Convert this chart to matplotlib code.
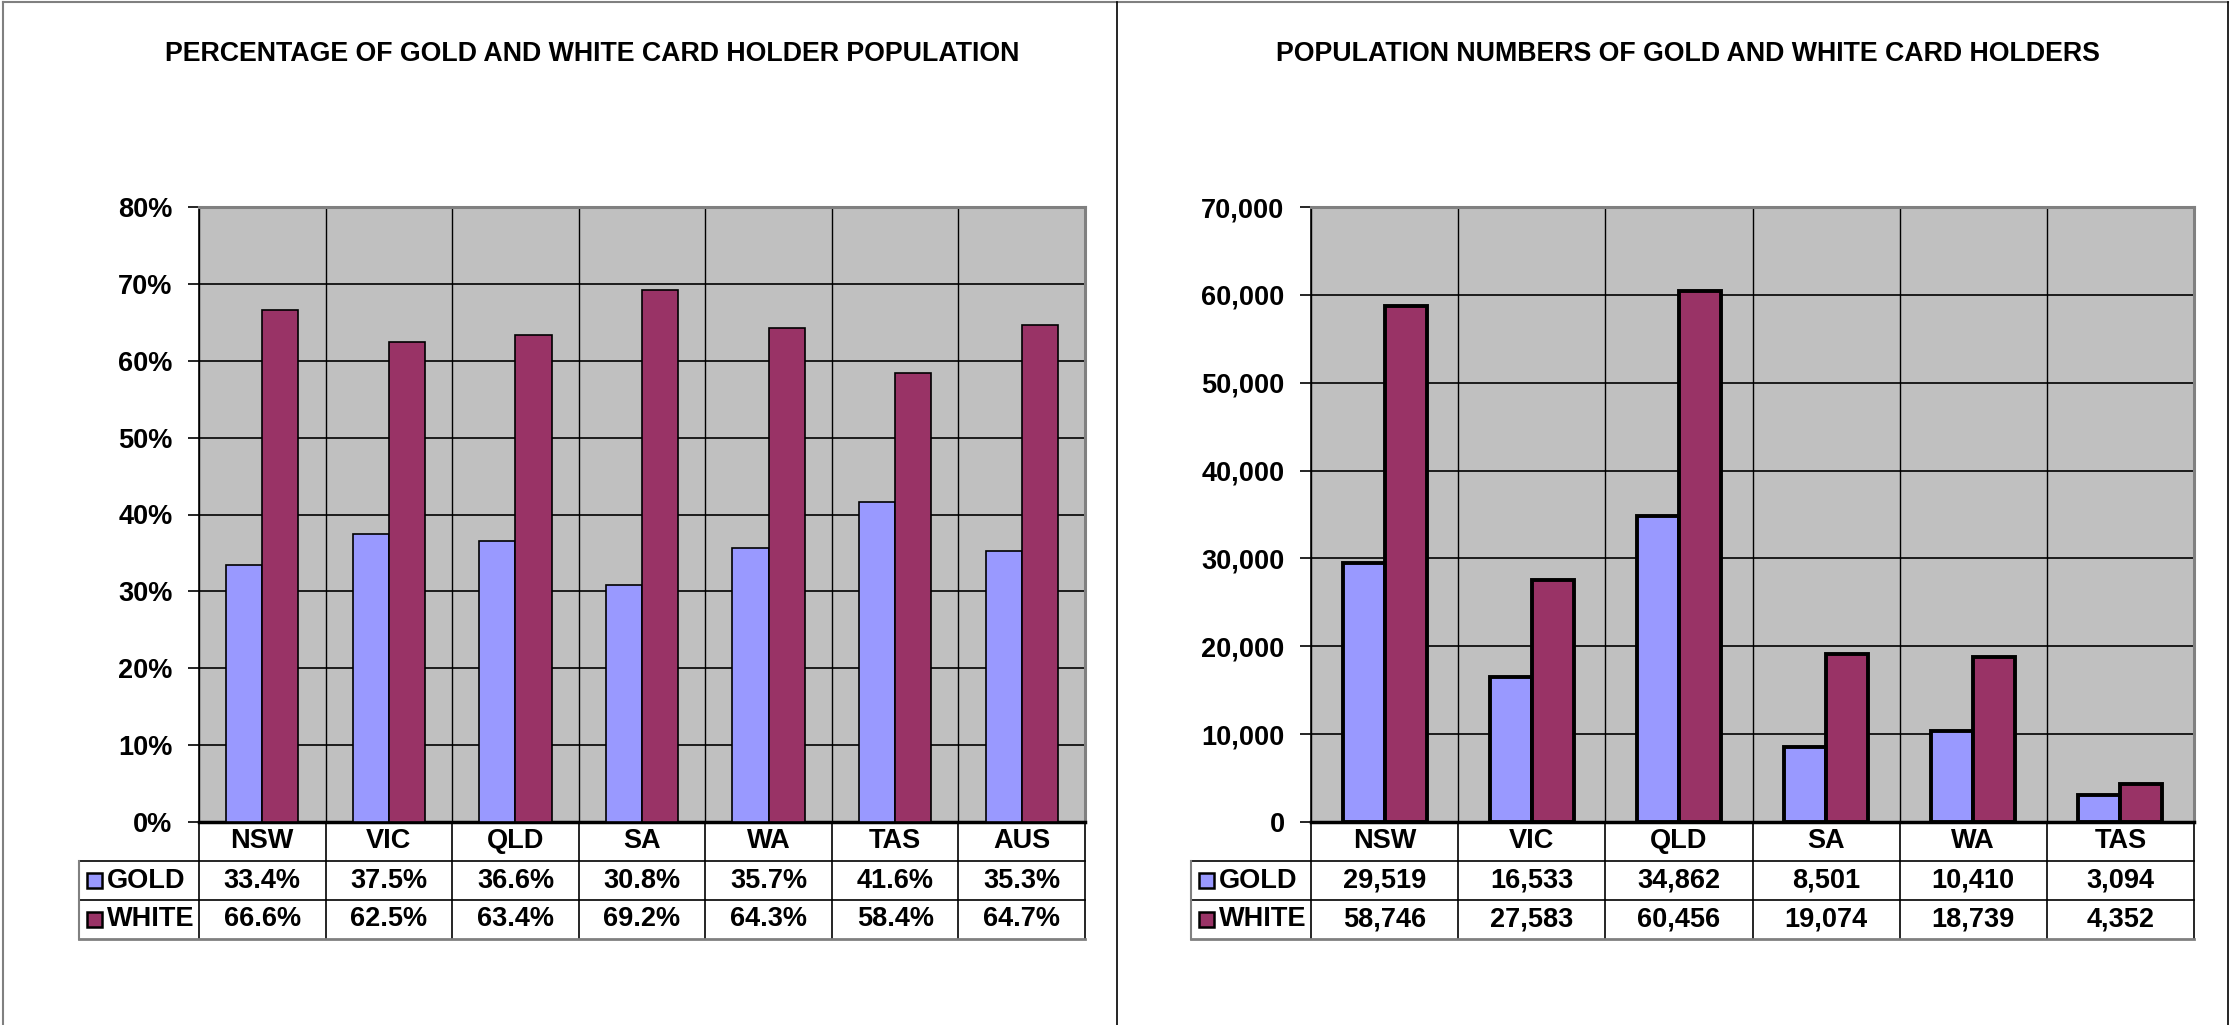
import numpy as np
import matplotlib
matplotlib.use('Agg')
import matplotlib.pyplot as plt
from matplotlib.patches import Rectangle
from matplotlib.lines import Line2D
from matplotlib.ticker import FuncFormatter, MultipleLocator

plt.rcParams['font.family'] = 'Liberation Sans'
plt.rcParams['font.weight'] = 'bold'

# --- data ---
states_pct = ['NSW', 'VIC', 'QLD', 'SA', 'WA', 'TAS', 'AUS']
gold_pct = [33.4, 37.5, 36.6, 30.8, 35.7, 41.6, 35.3]
white_pct = [66.6, 62.5, 63.4, 69.2, 64.3, 58.4, 64.7]

states_num = ['NSW', 'VIC', 'QLD', 'SA', 'WA', 'TAS']
gold_num = [29519, 16533, 34862, 8501, 10410, 3094]
white_num = [58746, 27583, 60456, 19074, 18739, 4352]

series_names = ['GOLD', 'WHITE']
GOLD_C = '#9999FF'
WHITE_C = '#993366'
PLOT_BG = '#C0C0C0'
FS = 19.5
FS_TITLE = 19.3

W, H = 2233, 1025
fig = plt.figure(figsize=(W / 100, H / 100), dpi=100)


def px_axes(x0, y0, x1, y1):
    return fig.add_axes([x0 / W, 1 - y1 / H, (x1 - x0) / W, (y1 - y0) / H])


def draw_chart(ax, cats, gold, white, ymax, step, fmt, valfmt, bar_lw, key_left_px):
    n = len(cats)
    x = np.arange(n)
    bw = 1 / 3.5                       # excel gap width 150%
    ax.set_facecolor(PLOT_BG)
    ax.bar(x - bw / 2, gold, bw, color=GOLD_C, edgecolor='black', lw=bar_lw, zorder=3)
    ax.bar(x + bw / 2, white, bw, color=WHITE_C, edgecolor='black', lw=bar_lw, zorder=3)
    ax.set_xlim(-0.5, n - 0.5)
    ax.set_ylim(0, ymax)
    ax.yaxis.set_major_locator(MultipleLocator(step))
    ax.yaxis.set_major_formatter(FuncFormatter(fmt))
    ax.set_xticks([])
    ax.set_xticks(np.arange(n + 1) - 0.5, minor=True)
    ax.tick_params(axis='x', which='minor', length=0)
    ax.tick_params(axis='y', length=8, width=1.2, pad=11, labelsize=FS, direction='out')
    for lab in ax.get_yticklabels():
        lab.set_fontweight('bold')
    ax.set_axisbelow(True)
    ax.grid(axis='y', which='major', color='black', lw=1.2)
    ax.grid(axis='x', which='minor', color='black', lw=1.0)
    ax.spines['top'].set_color('#808080')
    ax.spines['top'].set_linewidth(2.2)
    ax.spines['right'].set_color('#808080')
    ax.spines['right'].set_linewidth(2.2)
    ax.spines['left'].set_linewidth(1.2)
    ax.spines['bottom'].set_linewidth(2.5)

    # --- data table under the axis ---
    bb = ax.get_position()
    ax_h_px = bb.height * H
    ax_w_px = bb.width * W
    rh = 39 / ax_h_px
    key_left = (key_left_px - bb.x0 * W) / ax_w_px
    tr = ax.transAxes
    kw = dict(transform=tr, clip_on=False)
    # vertical lines at category boundaries
    for i in range(n + 1):
        ax.add_artist(Line2D([i / n, i / n], [0, -3 * rh], color='black', lw=1.2, **kw))
    # horizontal lines
    for r in (1, 2):
        ax.add_artist(Line2D([key_left, 1], [-r * rh, -r * rh], color='black', lw=1.2, **kw))
    ax.add_artist(Line2D([key_left, 1], [-3 * rh, -3 * rh], color='#808080', lw=2, **kw))
    ax.add_artist(Line2D([key_left, key_left], [-rh, -3 * rh], color='#808080', lw=1.5, **kw))
    # category labels
    for i, c in enumerate(cats):
        ax.text((i + 0.5) / n, -0.5 * rh, c, ha='center', va='center', fontsize=FS,
                fontweight='bold', transform=tr)
    # series rows
    ks = 15 / ax_w_px
    kh = 15 / ax_h_px
    for r, (name, vals, col) in enumerate(zip(series_names, (gold, white), (GOLD_C, WHITE_C))):
        yc = -(r + 1.5) * rh
        ax.add_artist(Rectangle((key_left + 8 / ax_w_px, yc - kh / 2), ks, kh,
                                facecolor=col, edgecolor='black', lw=1.8, **kw))
        ax.text(key_left + 28 / ax_w_px, yc, name, ha='left', va='center', fontsize=FS,
                fontweight='bold', transform=tr)
        for i, v in enumerate(vals):
            ax.text((i + 0.5) / n, yc, valfmt(v), ha='center', va='center', fontsize=FS,
                    fontweight='bold', transform=tr)


ax1 = px_axes(199, 207, 1085, 822)
draw_chart(ax1, states_pct, gold_pct, white_pct, 80, 10,
           lambda v, p: f'{v:.0f}%', lambda v: f'{v:.1f}%', 1.2, 79)

ax2 = px_axes(1311, 207, 2194, 822)
draw_chart(ax2, states_num, gold_num, white_num, 70000, 10000,
           lambda v, p: f'{v:,.0f}', lambda v: f'{v:,}', 2.8, 1191)

fig.text(592 / W, 1 - 54 / H, 'PERCENTAGE OF GOLD AND WHITE CARD HOLDER POPULATION',
         ha='center', va='center', fontsize=FS_TITLE, fontweight='bold')
fig.text(1688 / W, 1 - 54 / H, 'POPULATION NUMBERS OF GOLD AND WHITE CARD HOLDERS',
         ha='center', va='center', fontsize=FS_TITLE, fontweight='bold')

# panel borders
fig.add_artist(Line2D([3 / W, 2228 / W], [1 - 2 / H, 1 - 2 / H], color='#808080', lw=1.5))
fig.add_artist(Line2D([3 / W, 3 / W], [0, 1 - 2 / H], color='#808080', lw=1.5))
fig.add_artist(Line2D([1117 / W, 1117 / W], [0, 1 - 2 / H], color='black', lw=1.2))
fig.add_artist(Line2D([2228 / W, 2228 / W], [0, 1 - 2 / H], color='black', lw=1.2))

fig.savefig('out.png', dpi=100)
